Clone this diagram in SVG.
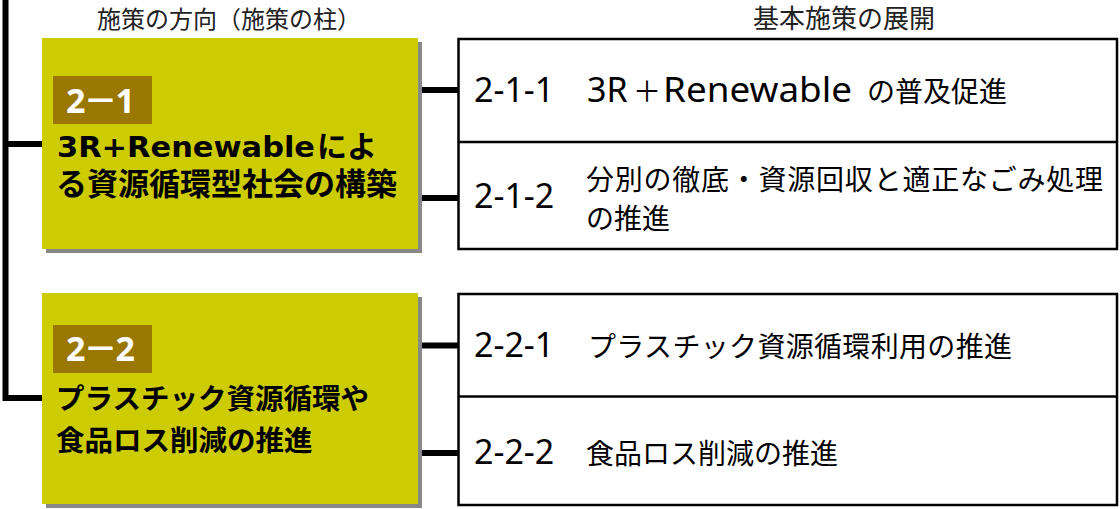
<svg xmlns="http://www.w3.org/2000/svg" width="1120" height="509" viewBox="0 0 1120 509">
<defs>
<style>
.pillar{fill:#CCCC00}
.shadow{fill:#888888}
.badge{fill:#997700}
.box{fill:#FFFFFF;stroke:#000000;stroke-width:2.5}
.div{stroke:#000000;stroke-width:2.5}
.conn{fill:none;stroke:#000000;stroke-width:6;stroke-linejoin:miter;stroke-linecap:butt}
.hdr{font-family:"Noto Sans CJK JP","Noto Sans",sans-serif;fill:#222222}
.jb{font-family:"Noto Sans CJK JP",sans-serif;font-weight:bold;fill:#000000}
.lb{font-family:"DejaVu Sans","Noto Sans CJK JP",sans-serif;font-weight:bold;fill:#000000}
.bt{font-family:"Noto Sans","Noto Sans CJK JP",sans-serif;font-weight:bold;fill:#FFFFFF;font-size:34px;letter-spacing:-2px}
.rt{font-family:"Noto Sans","Noto Sans CJK JP",sans-serif;font-size:34px;fill:#000000}
.rj{font-family:"Noto Sans CJK JP",sans-serif;font-size:28px;fill:#000000}
</style>
</defs>
<rect width="1120" height="509" fill="#FFFFFF"/>

<g id="headers">
<text class="hdr" x="229" y="28" font-size="24" text-anchor="middle">施策の方向（施策の柱）</text>
<text class="hdr" x="844" y="28" font-size="26" text-anchor="middle">基本施策の展開</text>
</g>

<g id="connectors">
<path class="conn" d="M5.5,0 V398 H42"/>
<path class="conn" d="M5.5,144 H42"/>
<path class="conn" d="M422,90 H458"/>
<path class="conn" d="M422,198 H458"/>
<path class="conn" d="M422,345.5 H458"/>
<path class="conn" d="M422,453 H458"/>
</g>

<g id="pillar-2-1">
<rect class="shadow" x="46" y="42" width="376" height="211"/>
<rect class="pillar" x="42" y="38" width="376" height="211"/>
<rect class="badge" x="53" y="76" width="99" height="48"/>
<text class="bt" x="66" y="113">2－1</text>
<text class="lb" x="57" y="157" font-size="28" textLength="258" lengthAdjust="spacingAndGlyphs">3R+Renewable</text>
<text class="jb" x="317" y="157" font-size="30">によ</text>
<text class="jb" x="56" y="195" font-size="31">る資源循環型社会の構築</text>
</g>

<g id="pillar-2-2">
<rect class="shadow" x="46" y="297" width="376" height="211"/>
<rect class="pillar" x="42" y="293" width="376" height="211"/>
<rect class="badge" x="53" y="325" width="99" height="48"/>
<text class="bt" x="66" y="361">2－2</text>
<text class="jb" x="56" y="409" font-size="28.5">プラスチック資源循環や</text>
<text class="jb" x="56" y="451" font-size="28.5">食品ロス削減の推進</text>
</g>

<g id="measures-2-1">
<rect class="box" x="458.5" y="39" width="658.5" height="210"/>
<line class="div" x1="458.5" y1="142" x2="1117" y2="142"/>
</g>
<g id="measure-2-1-1">
<text class="rt" x="474" y="102">2-1-1</text>
<text class="rt" x="587" y="102">3R</text>
<text class="rj" x="633" y="102">＋</text>
<text class="rt" x="663" y="102" textLength="189" lengthAdjust="spacingAndGlyphs">Renewable</text>
<text class="rj" x="867" y="102">の普及促進</text>
</g>
<g id="measure-2-1-2">
<text class="rt" x="474" y="208">2-1-2</text>
<text class="rj" x="586" y="190" font-size="29" textLength="517" lengthAdjust="spacing">分別の徹底・資源回収と適正なごみ処理</text>
<text class="rj" x="586" y="229" font-size="29">の推進</text>
</g>

<g id="measures-2-2">
<rect class="box" x="458.5" y="294" width="658.5" height="211"/>
<line class="div" x1="458.5" y1="396.5" x2="1117" y2="396.5"/>
</g>
<g id="measure-2-2-1">
<text class="rt" x="474" y="357">2-2-1</text>
<text class="rj" x="588" y="357" font-size="28.5" textLength="424" lengthAdjust="spacing">プラスチック資源循環利用の推進</text>
</g>
<g id="measure-2-2-2">
<text class="rt" x="474" y="464">2-2-2</text>
<text class="rj" x="586" y="464" font-size="29">食品ロス削減の推進</text>
</g>
</svg>
